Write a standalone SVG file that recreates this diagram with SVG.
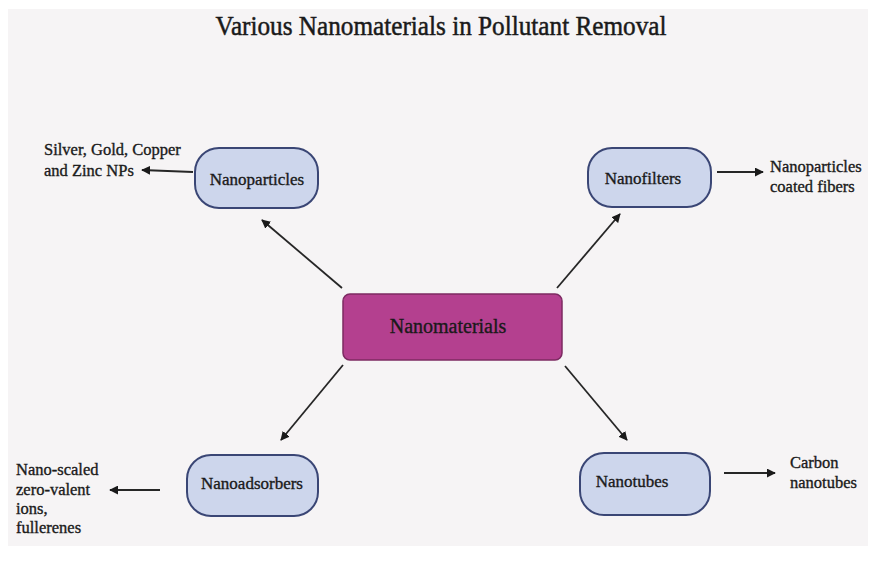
<svg xmlns="http://www.w3.org/2000/svg" width="869" height="573" viewBox="0 0 869 573">
<style>
text{font-family:"Liberation Serif","Times New Roman",serif;fill:#1a1a1a;stroke:#1a1a1a;stroke-width:0.35;}
.node{fill:#cdd6ec;stroke:#3a4675;stroke-width:2;}
.hub{fill:#b4408f;stroke:#7d2a62;stroke-width:1.5;}
.lbl{font-size:17px;text-anchor:middle;}
.side{font-size:16.5px;}
.conn line{stroke:#262626;stroke-width:1.8;marker-end:url(#ah);}
</style>
<defs>
<marker id="ah" viewBox="0 0 10 10" refX="9" refY="5" markerWidth="9" markerHeight="9" markerUnits="userSpaceOnUse" orient="auto">
<path d="M0,0 L10,5 L0,10 z" fill="#1a1a1a"/>
</marker>
</defs>
<rect x="0" y="0" width="869" height="573" fill="#ffffff"/>
<rect x="8" y="9" width="860" height="537" fill="#f6f4f5"/>
<text x="441" y="35" font-size="28" text-anchor="middle" textLength="451" lengthAdjust="spacingAndGlyphs" style="stroke-width:0.5">Various Nanomaterials in Pollutant Removal</text>

<g class="conn">
<line x1="342" y1="288" x2="262" y2="220"/>
<line x1="557" y1="288" x2="620" y2="214"/>
<line x1="343" y1="365" x2="281" y2="440"/>
<line x1="565" y1="366" x2="627" y2="440"/>
<line x1="193" y1="172" x2="142" y2="170"/>
<line x1="717" y1="172" x2="763" y2="172"/>
<line x1="160" y1="490" x2="110" y2="490"/>
<line x1="724" y1="473" x2="775" y2="473"/>
</g>

<g id="nanomaterials">
<rect class="hub" x="343" y="294" width="219" height="66" rx="7"/>
<text class="lbl" x="448" y="333" style="font-size:20px">Nanomaterials</text>
</g>
<g id="nanoparticles">
<rect class="node" x="195" y="148" width="123" height="60" rx="24"/>
<text class="lbl" x="257" y="185">Nanoparticles</text>
<text class="side" x="44" y="155">Silver, Gold, Copper</text>
<text class="side" x="44" y="176">and Zinc NPs</text>
</g>
<g id="nanofilters">
<rect class="node" x="588" y="148" width="123" height="59" rx="24"/>
<text class="lbl" x="643" y="184">Nanofilters</text>
<text class="side" x="770" y="172">Nanoparticles</text>
<text class="side" x="770" y="192">coated fibers</text>
</g>
<g id="nanoadsorbers">
<rect class="node" x="187" y="455" width="131" height="61" rx="24"/>
<text class="lbl" x="252" y="489">Nanoadsorbers</text>
<text class="side" x="16" y="475">Nano-scaled</text>
<text class="side" x="16" y="495">zero-valent</text>
<text class="side" x="16" y="514">ions,</text>
<text class="side" x="16" y="533">fullerenes</text>
</g>
<g id="nanotubes">
<rect class="node" x="580" y="453" width="130" height="62" rx="24"/>
<text class="lbl" x="632" y="487">Nanotubes</text>
<text class="side" x="790" y="468">Carbon</text>
<text class="side" x="790" y="488">nanotubes</text>
</g>
</svg>
